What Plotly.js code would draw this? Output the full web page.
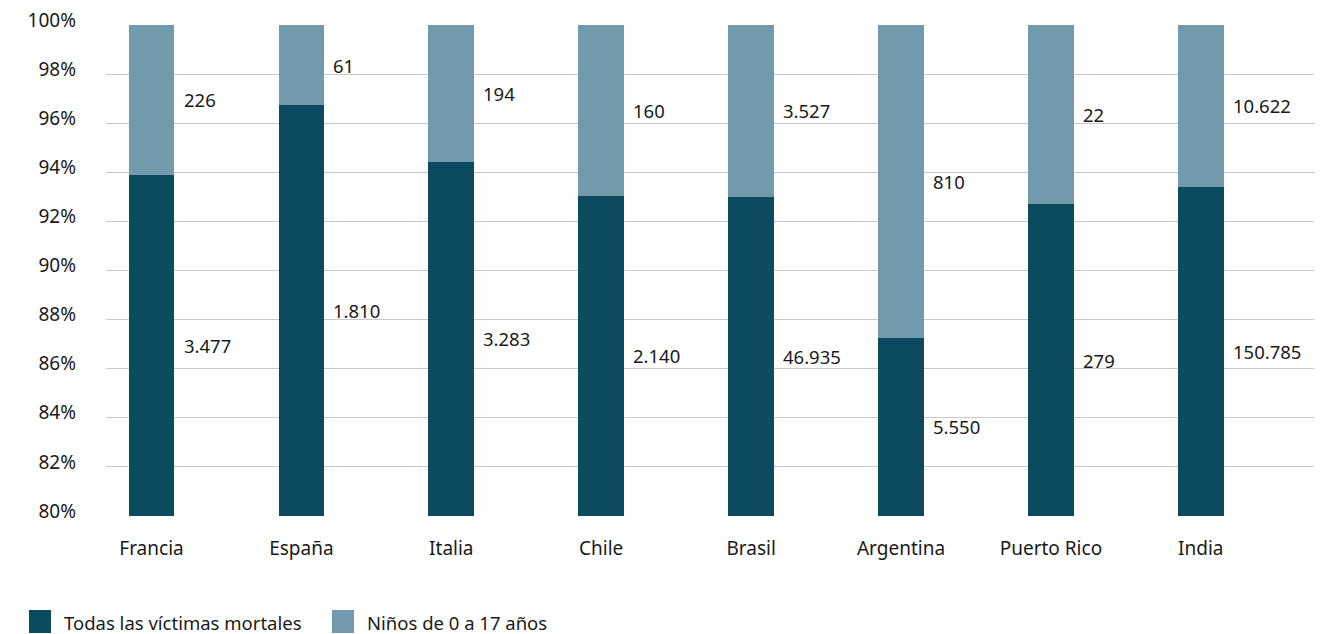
<!DOCTYPE html>
<html>
<head>
<meta charset="utf-8">
<script src="https://cdn.plot.ly/plotly-3.0.1.min.js"></script>
<style>
  html, body { margin: 0; padding: 0; background: #fff; }
  #chart { width: 1335px; height: 634px; }
</style>
</head>
<body>
<div id="chart"></div>
<script>
// Countries shown along the x axis
const countries = ['Francia', 'España', 'Italia', 'Chile', 'Brasil', 'Argentina', 'Puerto Rico', 'India'];

// Deaths in each group (absolute counts)
const allVictims = [3477, 1810, 3283, 2140, 46935, 5550, 279, 150785];
const children = [226, 61, 194, 160, 3527, 810, 22, 10622];

const seriesNames = ['Todas las víctimas mortales', 'Niños de 0 a 17 años'];

const DARK = '#0c4a60';
const LIGHT = '#719bac';
const FONT = 'Noto Sans, Open Sans, sans-serif';
const TEXT = '#1a1a1a';
const LABEL_SIZE = 18.5;
const TICK_SIZE = 19;

// Numbers are written with a dot as thousands separator
function fmt(n) {
  return String(n).replace(/\B(?=(\d{3})+(?!\d))/g, '.');
}

const traces = [
  { type: 'bar', name: seriesNames[0], x: countries, y: allVictims,
    marker: { color: DARK }, width: 0.305, hoverinfo: 'x+y+name' },
  { type: 'bar', name: seriesNames[1], x: countries, y: children,
    marker: { color: LIGHT }, width: 0.305, hoverinfo: 'x+y+name' }
];

// Value labels placed beside each segment, at its vertical middle
const annotations = [];
countries.forEach((c, i) => {
  const total = allVictims[i] + children[i];
  const pAll = allVictims[i] / total * 100;
  const lowMid = (80 + pAll) / 2;
  const highMid = (pAll + 100) / 2;
  annotations.push({ x: c, y: lowMid, xref: 'x', yref: 'y', text: fmt(allVictims[i]),
    showarrow: false, xanchor: 'left', yanchor: 'middle', xshift: 30,
    font: { family: FONT, size: LABEL_SIZE, color: TEXT } });
  annotations.push({ x: c, y: highMid, xref: 'x', yref: 'y', text: fmt(children[i]),
    showarrow: false, xanchor: 'left', yanchor: 'middle', xshift: 30,
    font: { family: FONT, size: LABEL_SIZE, color: TEXT } });
});

// Legend drawn at the bottom with large square swatches
const W = 1335, H = 634;
const PL = 106, PR = 21, PT = 25, PB = 118;
const px = v => (v - PL) / (W - PL - PR);
const py = v => (H - PB - v) / (H - PB - PT);
const legendItems = [
  { x0: 29, color: DARK, textX: 62, label: seriesNames[0] },
  { x0: 332, color: LIGHT, textX: 365, label: seriesNames[1] }
];
const shapes = [];
legendItems.forEach(it => {
  shapes.push({ type: 'rect', xref: 'paper', yref: 'paper',
    x0: px(it.x0), x1: px(it.x0 + 22), y0: py(633), y1: py(610),
    fillcolor: it.color, line: { width: 0 } });
  annotations.push({ xref: 'paper', yref: 'paper', x: px(it.textX), y: py(622),
    text: it.label, showarrow: false, xanchor: 'left', yanchor: 'middle',
    font: { family: FONT, size: LABEL_SIZE, color: TEXT } });
});

const layout = {
  width: W, height: H,
  margin: { l: PL, r: PR, t: PT, b: PB },
  paper_bgcolor: '#fff', plot_bgcolor: '#fff',
  barmode: 'stack', barnorm: 'percent',
  showlegend: false,
  font: { family: FONT, size: LABEL_SIZE, color: TEXT },
  xaxis: {
    type: 'category', range: [-0.3035, 7.755],
    showgrid: false, showline: false, zeroline: false,
    ticks: '', ticklabelstandoff: 19,
    tickfont: { family: FONT, size: TICK_SIZE, color: TEXT }
  },
  yaxis: {
    range: [80, 100], dtick: 2, ticksuffix: '%',
    showgrid: true, gridcolor: '#c9c9c9', gridwidth: 1,
    showline: false, zeroline: false, ticks: '', ticklabelstandoff: 29,
    ticklabelshift: -5,
    tickfont: { family: FONT, size: TICK_SIZE, color: TEXT }
  },
  annotations: annotations,
  shapes: shapes
};

Plotly.newPlot('chart', traces, layout, { displayModeBar: false, staticPlot: true });
</script>
</body>
</html>
